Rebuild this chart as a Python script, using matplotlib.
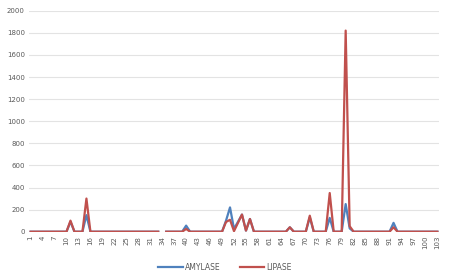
import numpy as np
import matplotlib.pyplot as plt

nan = np.nan
days = list(range(1, 104))

# values per category 1..103 (34 missing)
amylase = [0, 0, 0, 0, 0, 0, 0, 0, 0, 0,
           90, 0, 0, 0, 150, 0, 0, 0, 0, 0,
           0, 0, 0, 0, 0, 0, 0, 0, 0, 0,
           0, 0, 0, nan, 0, 0, 0, 0, 0, 55,
           0, 0, 0, 0, 0, 0, 0, 0, 0, 100,
           220, 25, 90, 155, 10, 115, 0, 0, 0, 0,
           0, 0, 0, 0, 0, 40, 0, 0, 0, 0,
           130, 0, 0, 0, 0, 125, 0, 0, 0, 250,
           30, 0, 0, 0, 0, 0, 0, 0, 0, 0,
           0, 80, 0, 0, 0, 0, 0, 0, 0, 0,
           0, 0, 0]
lipase = [0, 0, 0, 0, 0, 0, 0, 0, 0, 0,
          100, 0, 0, 0, 300, 0, 0, 0, 0, 0,
          0, 0, 0, 0, 0, 0, 0, 0, 0, 0,
          0, 0, 0, nan, 0, 0, 0, 0, 0, 25,
          0, 0, 0, 0, 0, 0, 0, 0, 0, 88,
          108, 5, 80, 155, 10, 115, 0, 0, 0, 0,
          0, 0, 0, 0, 0, 40, 0, 0, 0, 0,
          145, 0, 0, 0, 0, 350, 0, 0, 0, 1820,
          50, 0, 0, 0, 0, 0, 0, 0, 0, 0,
          0, 40, 0, 0, 0, 0, 0, 0, 0, 0,
          0, 0, 0]
tick_days = days[::3]

fig = plt.figure(figsize=(4.49, 2.78), dpi=100)
ax = fig.add_axes([29 / 449, 46.3 / 278, 410 / 449, 221 / 278])

ax.plot(days, amylase, color='#4F81BD', lw=1.6, label='AMYLASE')
ax.plot(days, lipase, color='#C0504D', lw=1.6, label='LIPASE')

ax.set_xlim(0.6, 103.4)
ax.set_ylim(0, 2000)
ax.set_yticks(range(0, 2001, 200))
ax.set_xticks(tick_days)
ax.set_xticklabels([str(d) for d in tick_days], rotation=90)
ax.tick_params(axis='both', length=0, labelsize=5, labelcolor='#595959', pad=3)
ax.grid(axis='y', color='#E3E3E3', lw=0.8)
ax.set_axisbelow(True)
for s in ax.spines.values():
    s.set_visible(False)

fig.legend(loc='center', bbox_to_anchor=(225 / 449, 1 - 267 / 278), ncol=2,
           frameon=False, fontsize=5.5, handlelength=3.2, columnspacing=2.5,
           labelcolor='#595959', handletextpad=0.3)

fig.savefig('out.png', dpi=100)
